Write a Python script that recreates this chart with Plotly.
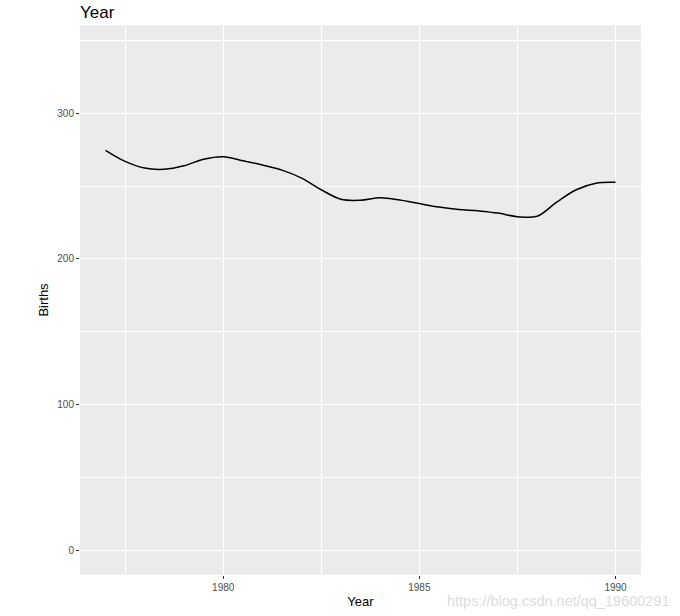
import plotly.graph_objects as go

years = [1977.0, 1977.5, 1978.0, 1978.5, 1979.0, 1979.5, 1980.0, 1980.5, 1981.0, 1981.5,
         1982.0, 1982.5, 1983.0, 1983.5, 1984.0, 1984.5, 1985.0, 1985.5, 1986.0, 1986.5,
         1987.0, 1987.5, 1988.0, 1988.5, 1989.0, 1989.5, 1990.0]
births = [274.6, 267.0, 262.4, 261.6, 264.0, 268.5, 270.2, 267.5, 264.5, 261.0,
          255.5, 247.5, 241.0, 240.3, 242.0, 240.5, 238.0, 235.6, 234.0, 233.0,
          231.5, 229.0, 229.3, 239.0, 247.5, 252.0, 252.6]
x_ticks = [1980, 1985, 1990]
y_ticks = [0, 100, 200, 300]

fig = go.Figure()
fig.add_trace(go.Scatter(x=years, y=births, mode="lines",
                         line=dict(color="black", width=1.5, shape="spline", smoothing=1.0),
                         showlegend=False, hoverinfo="skip"))

font = "Liberation Sans, Arial, sans-serif"
fig.update_layout(
    width=680, height=616,
    margin=dict(l=80, r=39, t=25, b=41),
    paper_bgcolor="white", plot_bgcolor="#EBEBEB",
    font=dict(family=font),
    title=dict(text="Year", x=80/680, xanchor="left", y=1-12/616, yanchor="middle",
               font=dict(size=17, color="black", family=font)),
    xaxis=dict(range=[1976.35, 1990.65], tickvals=x_ticks, ticktext=[str(v) for v in x_ticks],
               showgrid=True, gridcolor="white", gridwidth=1.1, zeroline=False,
               ticks="outside", ticklen=3, tickcolor="#333333", tickwidth=1,
               tickfont=dict(size=10, color="#4D4D4D"),
               minor=dict(tickvals=[1977.5, 1982.5, 1987.5], showgrid=True, gridcolor="white", gridwidth=0.5, ticks=""),
               title=dict(text="Year", font=dict(size=13, color="black"), standoff=4),
               showline=False, automargin=False),
    yaxis=dict(range=[-17.17, 360.7], tickvals=y_ticks, ticktext=[str(v) for v in y_ticks],
               showgrid=True, gridcolor="white", gridwidth=1.1, zeroline=False,
               ticks="outside", ticklen=3, tickcolor="#333333", tickwidth=1,
               tickfont=dict(size=10, color="#4D4D4D"),
               minor=dict(tickvals=[50, 150, 250, 350], showgrid=True, gridcolor="white", gridwidth=0.5, ticks=""),
               title=dict(text="Births", font=dict(size=13, color="black"), standoff=5),
               showline=False, automargin=False),
)
fig.add_annotation(text="https://blog.csdn.net/qq_19600291", xref="paper", yref="paper",
                   x=(680-8-80)/(680-80-39), xanchor="right", y=-(601-575)/550, yanchor="middle",
                   showarrow=False, font=dict(size=14.5, color="#DCDCDC", family=font))

fig.write_html("out.html")
